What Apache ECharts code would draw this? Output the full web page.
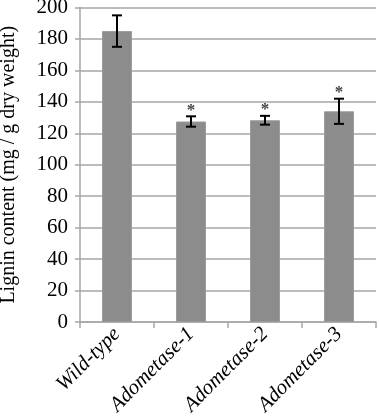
<!DOCTYPE html>
<html>
<head>
<meta charset="utf-8">
<script src="https://cdn.jsdelivr.net/npm/echarts@6/dist/echarts.min.js"></script>
<style>
  html, body { margin: 0; padding: 0; background: #fff; }
  #main { width: 379px; height: 419px; }
</style>
</head>
<body>
<div id="main"></div>
<script>
var categories = ['Wild-type', 'Adometase-1', 'Adometase-2', 'Adometase-3'];
var lignin = [185, 127.5, 128.3, 134];
var errors = [10, 3.3, 2.8, 8];
var stars = ['', '*', '*', '*'];
var yTicks = [0, 20, 40, 60, 80, 100, 120, 140, 160, 180, 200];

var serif = '"Liberation Serif", "Times New Roman", serif';

var errData = [];
for (var i = 0; i < categories.length; i++) {
    errData.push([i, lignin[i] - errors[i], lignin[i] + errors[i], stars[i]]);
}

function renderErr(params, api) {
    var x = api.value(0);
    var lo = api.coord([x, api.value(1)]);
    var hi = api.coord([x, api.value(2)]);
    var half = 5;
    var style = { stroke: '#000', lineWidth: 2 };
    var kids = [
        { type: 'line', shape: { x1: lo[0], y1: lo[1], x2: hi[0], y2: hi[1] }, style: style },
        { type: 'line', shape: { x1: lo[0] - half, y1: lo[1], x2: lo[0] + half, y2: lo[1] }, style: style },
        { type: 'line', shape: { x1: hi[0] - half, y1: hi[1], x2: hi[0] + half, y2: hi[1] }, style: style }
    ];
    var s = errData[params.dataIndex][3];
    if (s) {
        kids.push({
            type: 'text',
            style: {
                text: s, x: hi[0], y: hi[1] - 6,
                fill: '#444', font: 'bold 17px ' + serif,
                align: 'center', verticalAlign: 'middle'
            }
        });
    }
    return { type: 'group', children: kids };
}

var chart = echarts.init(document.getElementById('main'));
chart.setOption({
    animation: false,
    backgroundColor: '#fff',
    grid: { left: 80, right: 3, top: 7.5, bottom: 97, outerBoundsMode: 'none', containLabel: false },
    xAxis: {
        type: 'category',
        data: categories,
        axisLine: { lineStyle: { color: '#a6a6a6', width: 1.5 } },
        axisTick: { show: true, length: 6, lineStyle: { color: '#a6a6a6', width: 1.5 } },
        axisLabel: {
            rotate: 45, margin: 9,
            fontFamily: serif, fontStyle: 'italic', fontSize: 21, color: '#000'
        }
    },
    yAxis: {
        type: 'value',
        min: 0, max: 200, interval: 20,
        name: 'Lignin content (mg / g dry weight)',
        nameLocation: 'middle',
        nameGap: 61,
        nameTextStyle: { fontFamily: serif, fontSize: 20, color: '#000' },
        axisLine: { show: true, lineStyle: { color: '#a6a6a6', width: 1.5 } },
        axisTick: { show: true, length: 5, lineStyle: { color: '#a6a6a6', width: 1.5 } },
        axisLabel: {
            margin: 12, fontFamily: serif, fontSize: 21, color: '#000',
            formatter: function (v) { return yTicks.indexOf(v) >= 0 ? String(v) : ''; }
        },
        splitLine: { lineStyle: { color: '#a6a6a6', width: 1.5 } }
    },
    series: [
        {
            type: 'bar',
            data: lignin,
            barWidth: 30,
            itemStyle: { color: '#8c8c8c', borderColor: '#9c9c9c', borderWidth: 1 }
        },
        {
            type: 'custom',
            renderItem: renderErr,
            data: errData,
            encode: { x: 0, y: [1, 2] },
            z: 5
        }
    ]
});
</script>
</body>
</html>
